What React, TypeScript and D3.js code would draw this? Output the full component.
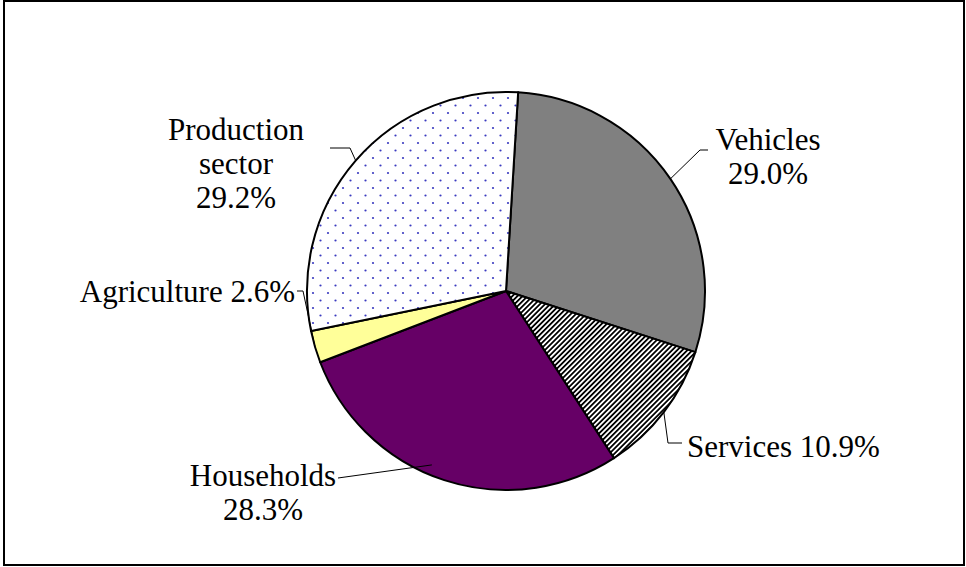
import React from "react";
import * as d3 from "d3";

const categories = ["Vehicles", "Services", "Households", "Agriculture", "Production sector"];
const values = [29.0, 10.9, 28.3, 2.6, 29.2];
const labelTexts = [["Vehicles", "29.0%"], ["Services 10.9%"], ["Households", "28.3%"], ["Agriculture 2.6%"], ["Production", "sector", "29.2%"]];

const W = 966, H = 567;
const cx = 506, cy = 291, R = 199;
const startDeg = 3.5;
const fills = ["#808080", "url(#stripes)", "#660066", "#FFFF99", "url(#dots)"];

// label layout: x, first baseline, anchor, leader start/bend, leader end angle shift (deg) and radius factor
const layout = [
  { x: 768, y: 150, anchor: "middle", lead: [[708, 150], [700, 150]], shift: 0, rf: 1 },
  { x: 687, y: 457, anchor: "start", lead: [[682, 443], [668, 443]], shift: 0, rf: 1 },
  { x: 263, y: 486, anchor: "middle", lead: [[338, 478], [338, 478]], shift: 5, rf: 0.95 },
  { x: 295, y: 302, anchor: "end", lead: [[297, 291], [303, 291]], shift: 0, rf: 1 },
  { x: 236, y: 140, anchor: "middle", lead: [[330, 148], [350, 148]], shift: 0, rf: 1 },
];

export default function App() {
  const pie = d3.pie<number>().sort(null).value(d => d)
    .startAngle(startDeg * Math.PI / 180).endAngle(startDeg * Math.PI / 180 + 2 * Math.PI);
  const arcs = pie(values);
  const arc = d3.arc<d3.PieArcDatum<number>>().innerRadius(0).outerRadius(R);
  const line = d3.line();
  return (
    <svg width={W} height={H} style={{ position: "absolute", left: 0, top: 0, background: "#fff" }}>
      <defs>
        <pattern id="stripes" width="3.6" height="3.6" patternUnits="userSpaceOnUse" patternTransform="rotate(45)">
          <rect width="3.6" height="3.6" fill="#fff" />
          <rect width="1.8" height="3.6" fill="#000" />
        </pattern>
        <pattern id="dots" width="15" height="15" patternUnits="userSpaceOnUse">
          <rect width="15" height="15" fill="#fff" />
          <circle cx="2" cy="2" r="1.1" fill="#3a3ac0" />
          <circle cx="9.5" cy="9.5" r="1.1" fill="#3a3ac0" />
        </pattern>
      </defs>
      <rect x={4} y={1} width={960} height={564} fill="#fff" stroke="#000" strokeWidth={2} />
      <g transform={`translate(${cx},${cy})`}>
        {arcs.map((a, i) => (
          <path key={categories[i]} d={arc(a) || ""} fill={fills[i]} stroke="#000" strokeWidth={2} strokeLinejoin="round" />
        ))}
      </g>
      {arcs.map((a, i) => {
        const L = layout[i];
        const mid = (a.startAngle + a.endAngle) / 2 + L.shift * Math.PI / 180;
        const r = R * L.rf;
        const end: [number, number] = [cx + r * Math.sin(mid), cy - r * Math.cos(mid)];
        const pts: [number, number][] = [...L.lead.map(p => [p[0], p[1]] as [number, number]), end];
        return <path key={"l" + i} d={line(pts) || ""} fill="none" stroke="#000" strokeWidth={1} />;
      })}
      {labelTexts.map((lines, i) => (
        <text key={"t" + i} x={layout[i].x} y={layout[i].y} textAnchor={layout[i].anchor as any}
          fontFamily="'Liberation Serif', 'Times New Roman', serif" fontSize={31} fill="#000">
          {lines.map((s, j) => (
            <tspan key={j} x={layout[i].x} dy={j === 0 ? 0 : 34}>{s}</tspan>
          ))}
        </text>
      ))}
    </svg>
  );
}
